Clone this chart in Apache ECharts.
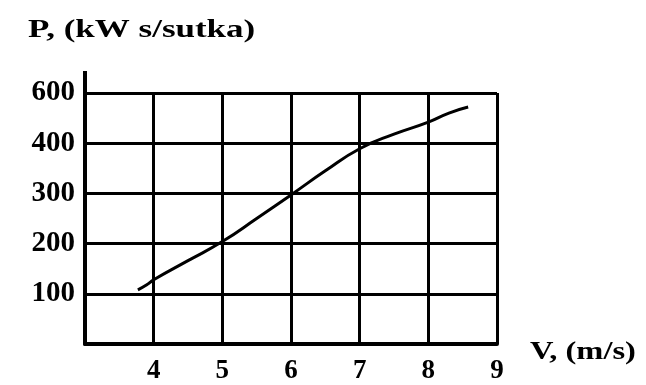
<!DOCTYPE html>
<html>
<head>
<meta charset="utf-8">
<script src="https://cdn.jsdelivr.net/npm/echarts@6/dist/echarts.min.js"></script>
<style>
  html, body { margin: 0; padding: 0; background: #fff; }
  #chart { width: 646px; height: 385px; }
</style>
</head>
<body>
<div id="chart"></div>
<script>
// скорость ветра V (м/с) и мощность P
const speed = [3.77, 3.9, 4.0, 4.5, 5.0, 5.5, 6.0, 6.5, 7.0, 7.5, 8.0, 8.3, 8.58]
const power = [108, 118, 128, 166, 204, 250, 297, 345, 389, 418, 442, 460, 472]
// подписи делений как на оригинале (вместо 500 стоит 600)
const xTickLabels = ['', '4', '5', '6', '7', '8', '9']
const yTickLabels = ['', '100', '200', '300', '400', '600']

const chart = echarts.init(document.getElementById('chart'))

const font = 'Liberation Serif'
const ink = '#000'

const option = {
  backgroundColor: '#fff',
  animation: false,
  grid: { left: 85, right: 149, top: 93, bottom: 40 },
  graphic: [{
    // заголовок оси Y, растянут по ширине как на скане
    type: 'text',
    x: 28,
    y: 18,
    scaleX: 1.4,
    style: { text: 'P, (kW s/sutka)', fontFamily: font, fontWeight: 'bold', fontSize: 25, fill: ink }
  }, {
    type: 'text',
    x: 530,
    y: 340,
    scaleX: 1.3,
    style: { text: 'V, (m/s)', fontFamily: font, fontWeight: 'bold', fontSize: 25, fill: ink }
  }],
  xAxis: {
    type: 'value',
    min: 3,
    max: 9,
    interval: 1,
    axisLine: { show: true, lineStyle: { color: ink, width: 4 } },
    axisTick: { show: false },
    splitLine: { show: true, lineStyle: { color: ink, width: 3 } },
    axisLabel: {
      margin: 14,
      fontFamily: font, fontWeight: 'bold', fontSize: 27, color: ink,
      formatter: (v) => xTickLabels[Math.round(v - 3)]
    }
  },
  yAxis: {
    type: 'value',
    min: 0,
    max: 500,
    interval: 100,
    axisLine: { show: true, lineStyle: { color: ink, width: 4 } },
    axisTick: { show: false },
    splitLine: { show: true, lineStyle: { color: ink, width: 3 } },
    axisLabel: {
      margin: 10,
      fontFamily: font, fontWeight: 'bold', fontSize: 29, color: ink,
      formatter: (v) => yTickLabels[Math.round(v / 100)]
    }
  },
  series: [{
    type: 'line',
    data: speed.map((v, i) => [v, power[i]]),
    smooth: true,
    showSymbol: false,
    lineStyle: { color: ink, width: 3 }
  }]
}

chart.setOption(option)

// ось Y на скане выходит чуть выше верхней линии сетки
const axisTop = chart.convertToPixel({ gridIndex: 0 }, [3, 500])
chart.setOption({
  graphic: [{}, {}, {
    type: 'line',
    shape: { x1: axisTop[0], y1: axisTop[1], x2: axisTop[0], y2: axisTop[1] - 22 },
    style: { stroke: ink, lineWidth: 4 }
  }]
})
</script>
</body>
</html>
